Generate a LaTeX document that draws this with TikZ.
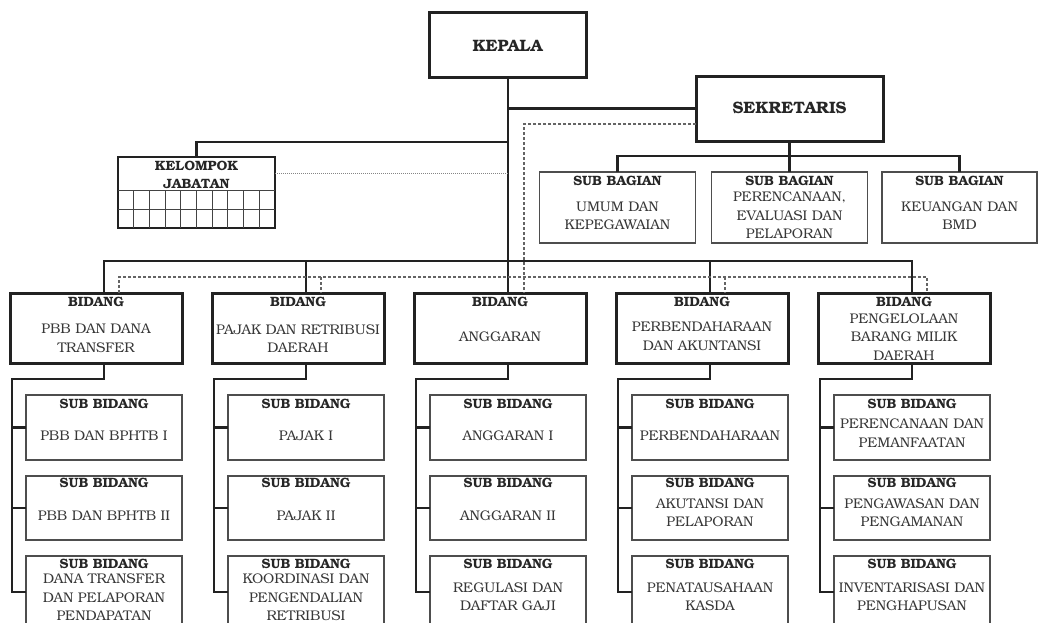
\documentclass[tikz,border=0pt]{standalone}
\usepackage{fontspec}
\setmainfont{TeX Gyre Bonum}
\usetikzlibrary{calc}
\definecolor{ink}{HTML}{222222}
\definecolor{txt}{HTML}{262626}
\definecolor{bodyc}{HTML}{383838}
\newcommand\BidBox[4]{%
  \node[bigbox,minimum width=172pt,minimum height=70pt] (#1) at (#2,328) {};
  \node[hdr] (#1h) at (#2,302) {BIDANG};
  \node[bodytxt] (#1t) at (#2,#4) {#3};
}
\newcommand\SubBid[7]{%
  \node[subbox,minimum width=156pt,minimum height=#4pt] (#1) at (#2,#3) {};
  \node[hdr] (#1h) at (#2,#5) {SUB BIDANG};
  \node[bodytxt] (#1t) at (#2,#6) {#7};
}
\begin{document}
\begin{tikzpicture}[x=1pt,y=-1pt,
  bigbox/.style={draw=ink,line width=3pt,inner sep=0pt,outer sep=0pt},
  subbox/.style={draw=ink!80,line width=1.4pt,inner sep=0pt,outer sep=0pt},
  conn/.style={draw=ink,line width=2.8pt},
  subconn/.style={draw=ink,line width=2.2pt},
  dashconn/.style={draw=ink!70,line width=1.2pt,dash pattern=on 3pt off 2pt},
  dotconn/.style={draw=ink!55,line width=1pt,dash pattern=on 1pt off 1pt},
  gridline/.style={draw=ink!85,line width=1pt},
  hdr/.style={font=\fontsize{13.5}{15}\selectfont\bfseries,text=txt,inner sep=0pt},
  bodytxt/.style={font=\fontsize{14}{18.4}\selectfont,align=center,text=bodyc,inner sep=0pt},
  toptxt/.style={font=\fontsize{16.5}{19}\selectfont\bfseries,text=txt,inner sep=0pt}]
\useasboundingbox (0,0) rectangle (1040,622);
\clip (0,0) rectangle (1040,622);
\fill[white] (0,0) rectangle (1040,622);

% top level
\node[bigbox,minimum width=157pt,minimum height=65pt] (kepala) at (507.5,44.5) {};
\node[toptxt] (kepalat) at (507.5,46) {KEPALA};
\node[bigbox,minimum width=187pt,minimum height=65pt] (sek) at (789.5,108.5) {};
\node[toptxt] (sekt) at (789.5,108) {SEKRETARIS};

% kelompok jabatan
\node[bigbox,line width=2.4pt,minimum width=157pt,minimum height=71pt] (kel) at (196.5,192.5) {};
\node[font=\fontsize{13.5}{18}\selectfont\bfseries,align=center,text=txt,inner sep=0pt] (kelt) at (196.5,175) {KELOMPOK\\JABATAN};
\draw[gridline] ($(kel.south west)+(0,-38)$) -- ($(kel.south east)+(0,-38)$);
\draw[gridline] ($(kel.south west)+(0,-19)$) -- ($(kel.south east)+(0,-19)$);
\foreach \k in {1,...,9} \draw[gridline] ($(kel.south west)+(15.7*\k,0)$) -- ++(0,-38);

% sub bagian
\node[subbox,minimum width=156pt,minimum height=71pt] (sb1) at (617.5,207.5) {};
\node[subbox,minimum width=156pt,minimum height=71pt] (sb2) at (789.5,207.5) {};
\node[subbox,minimum width=155pt,minimum height=71pt] (sb3) at (959.5,207.5) {};
\node[hdr] (sb1h) at (617.5,181) {SUB BAGIAN};
\node[hdr] (sb2h) at (789.5,181) {SUB BAGIAN};
\node[hdr] (sb3h) at (959.5,181) {SUB BAGIAN};
\node[bodytxt,font=\fontsize{14}{17.7}\selectfont] (sb1t) at (617.5,215.5) {UMUM DAN\\KEPEGAWAIAN};
\node[bodytxt,font=\fontsize{14}{18.5}\selectfont] (sb2t) at (789.5,215.5) {PERENCANAAN,\\EVALUASI DAN\\PELAPORAN};
\node[bodytxt,font=\fontsize{14}{17.7}\selectfont] (sb3t) at (959.5,215.5) {KEUANGAN DAN\\BMD};

% bidang
\BidBox{b1}{96}{PBB DAN DANA\\TRANSFER}{338.5}
\BidBox{b2}{298}{PAJAK DAN RETRIBUSI\\DAERAH}{338.5}
\BidBox{b3}{500}{ANGGARAN}{337}
\BidBox{b4}{702}{PERBENDAHARAAN\\DAN AKUNTANSI}{336.5}
\BidBox{b5}{904}{PENGELOLAAN\\BARANG MILIK\\DAERAH}{337}

% sub bidang
\SubBid{s11}{104}{427.5}{65}{404}{436}{PBB DAN BPHTB I}
\SubBid{s12}{104}{508}{64}{483}{516}{PBB DAN BPHTB II}
\SubBid{s13}{104}{592}{72}{564}{597.5}{DANA TRANSFER\\DAN PELAPORAN\\PENDAPATAN}
\SubBid{s21}{306}{427.5}{65}{404}{436}{PAJAK I}
\SubBid{s22}{306}{508}{64}{483}{516}{PAJAK II}
\SubBid{s23}{306}{592}{72}{564}{597.5}{KOORDINASI DAN\\PENGENDALIAN\\RETRIBUSI}
\SubBid{s31}{508}{427.5}{65}{404}{436}{ANGGARAN I}
\SubBid{s32}{508}{508}{64}{483}{516}{ANGGARAN II}
\SubBid{s33}{508}{592}{72}{564}{596.5}{REGULASI DAN\\DAFTAR GAJI}
\SubBid{s41}{710}{427.5}{65}{404}{436}{PERBENDAHARAAN}
\SubBid{s42}{710}{508}{64}{483}{512.5}{AKUTANSI DAN\\PELAPORAN}
\SubBid{s43}{710}{592}{72}{564}{596.5}{PENATAUSAHAAN\\KASDA}
\SubBid{s51}{912}{427.5}{65}{404}{433}{PERENCANAAN DAN\\PEMANFAATAN}
\SubBid{s52}{912}{508}{64}{483}{512.5}{PENGAWASAN DAN\\PENGAMANAN}
\SubBid{s53}{912}{592}{72}{564}{596.5}{INVENTARISASI DAN\\PENGHAPUSAN}

% connectors: top
\coordinate (spine) at (508,261);
\draw[conn] (kepala.south -| spine) -- (b3.north -| spine);
\draw[conn] (spine |- sek.west) -- (sek.west);
\draw[conn] (508,142) -| (kel.north);
\draw[dotconn] ($(kel.north east)+(0,16)$) -- (508,173);
% sekretaris to sub bagian
\draw[conn] (sek.south) -- (789.5,156);
\draw[conn] (sb1.north) -- (617.5,156) -- (959.5,156) -- (sb3.north);
\draw[conn] (789.5,156) -- (sb2.north);
% main bus to bidang
\draw[conn] (b1.north -| s11) -- (s11 |- spine) -- (s51 |- spine) -- (b5.north -| s51);
\foreach \n in {2,4} \draw[conn] (s\n1 |- spine) -- (b\n.north -| s\n1);
% dashed coordination lines
\coordinate (dsk) at ($(sek.west)+(0,15.5)$);
\draw[dashconn] (dsk) -- (524,124) -- (b3.north -| 524,0);
\draw[dashconn] (b1.north -| 119,0) -- (119,277) -- (927,277) -- (b5.north -| 927,0);
\foreach \x/\n in {321/2,725/4} \draw[dashconn] (\x,277) -- (b\n.north -| \x,0);

% bidang to sub bidang
\foreach \n/\lx in {1/12,2/214,3/416,4/618,5/820} {
  \draw[subconn,line join=miter] (b\n.south -| s\n1) -- ++(0,16) -| (\lx,0 |- s\n3.west) -- (s\n3.west);
  \draw[subconn] (\lx,0 |- s\n1.west) -- (s\n1.west);
  \draw[subconn] (\lx,0 |- s\n2.west) -- (s\n2.west);
}
\end{tikzpicture}
\end{document}
